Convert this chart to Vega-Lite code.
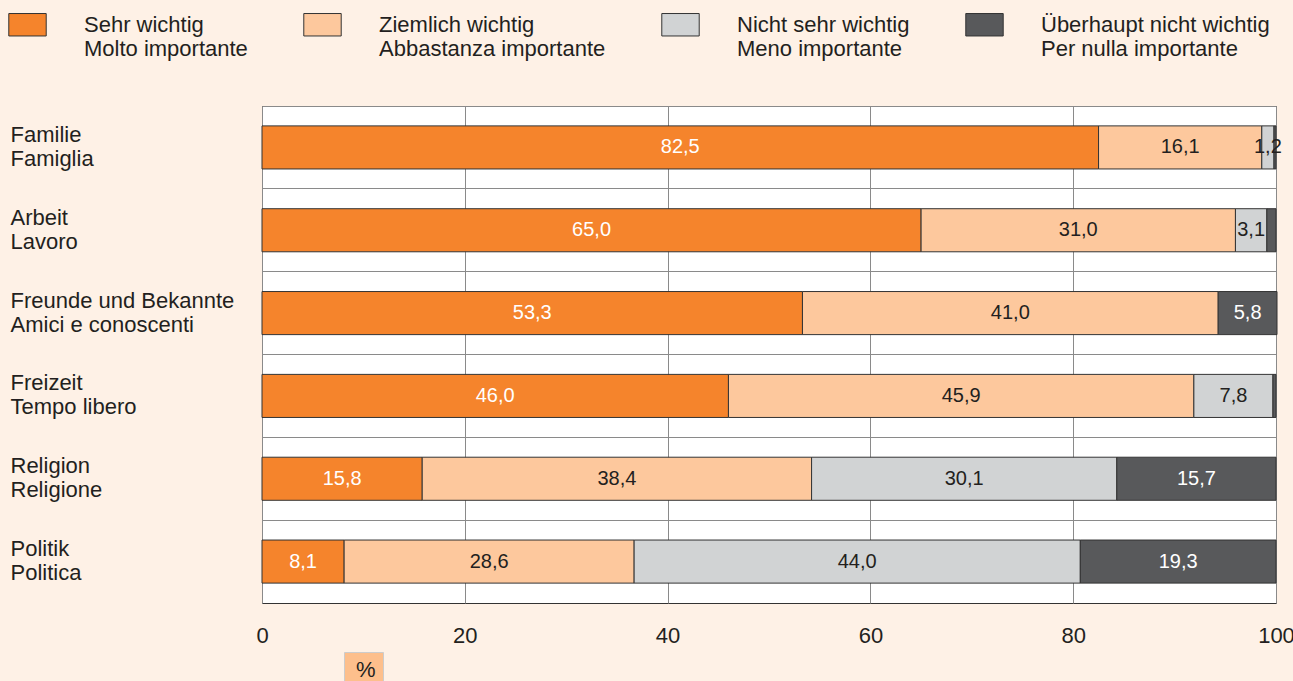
{
  "$schema": "https://vega.github.io/schema/vega-lite/v6.json",
  "width": 1014,
  "height": 497,
  "autosize": {"type": "none"},
  "padding": {"left": 262, "top": 106, "right": 17, "bottom": 78},
  "background": "#fef1e6",
  "config": {
    "font": "Liberation Sans",
    "view": {"fill": "white", "stroke": "#333333", "strokeWidth": 1},
    "locale": {"number": {"decimal": ",", "thousands": ".", "grouping": [3], "currency": ["", " €"]}}
  },
  "data": {
    "values": [
      {"cat": "Familie|Famiglia", "resp": "Sehr wichtig|Molto importante", "o": 1, "v": 82.5},
      {"cat": "Familie|Famiglia", "resp": "Ziemlich wichtig|Abbastanza importante", "o": 2, "v": 16.1},
      {"cat": "Familie|Famiglia", "resp": "Nicht sehr wichtig|Meno importante", "o": 3, "v": 1.2},
      {"cat": "Familie|Famiglia", "resp": "Überhaupt nicht wichtig|Per nulla importante", "o": 4, "v": 0.2},
      {"cat": "Arbeit|Lavoro", "resp": "Sehr wichtig|Molto importante", "o": 1, "v": 65.0},
      {"cat": "Arbeit|Lavoro", "resp": "Ziemlich wichtig|Abbastanza importante", "o": 2, "v": 31.0},
      {"cat": "Arbeit|Lavoro", "resp": "Nicht sehr wichtig|Meno importante", "o": 3, "v": 3.1},
      {"cat": "Arbeit|Lavoro", "resp": "Überhaupt nicht wichtig|Per nulla importante", "o": 4, "v": 0.9},
      {"cat": "Freunde und Bekannte|Amici e conoscenti", "resp": "Sehr wichtig|Molto importante", "o": 1, "v": 53.3},
      {"cat": "Freunde und Bekannte|Amici e conoscenti", "resp": "Ziemlich wichtig|Abbastanza importante", "o": 2, "v": 41.0},
      {"cat": "Freunde und Bekannte|Amici e conoscenti", "resp": "Überhaupt nicht wichtig|Per nulla importante", "o": 4, "v": 5.8},
      {"cat": "Freizeit|Tempo libero", "resp": "Sehr wichtig|Molto importante", "o": 1, "v": 46.0},
      {"cat": "Freizeit|Tempo libero", "resp": "Ziemlich wichtig|Abbastanza importante", "o": 2, "v": 45.9},
      {"cat": "Freizeit|Tempo libero", "resp": "Nicht sehr wichtig|Meno importante", "o": 3, "v": 7.8},
      {"cat": "Freizeit|Tempo libero", "resp": "Überhaupt nicht wichtig|Per nulla importante", "o": 4, "v": 0.3},
      {"cat": "Religion|Religione", "resp": "Sehr wichtig|Molto importante", "o": 1, "v": 15.8},
      {"cat": "Religion|Religione", "resp": "Ziemlich wichtig|Abbastanza importante", "o": 2, "v": 38.4},
      {"cat": "Religion|Religione", "resp": "Nicht sehr wichtig|Meno importante", "o": 3, "v": 30.1},
      {"cat": "Religion|Religione", "resp": "Überhaupt nicht wichtig|Per nulla importante", "o": 4, "v": 15.7},
      {"cat": "Politik|Politica", "resp": "Sehr wichtig|Molto importante", "o": 1, "v": 8.1},
      {"cat": "Politik|Politica", "resp": "Ziemlich wichtig|Abbastanza importante", "o": 2, "v": 28.6},
      {"cat": "Politik|Politica", "resp": "Nicht sehr wichtig|Meno importante", "o": 3, "v": 44.0},
      {"cat": "Politik|Politica", "resp": "Überhaupt nicht wichtig|Per nulla importante", "o": 4, "v": 19.3}
    ]
  },
  "encoding": {
    "y": {
      "field": "cat",
      "type": "nominal",
      "sort": ["Familie|Famiglia", "Arbeit|Lavoro", "Freunde und Bekannte|Amici e conoscenti", "Freizeit|Tempo libero", "Religion|Religione", "Politik|Politica"],
      "scale": {"paddingInner": 0, "paddingOuter": 0},
      "axis": {
        "title": null,
        "bandPosition": 0,
        "grid": true,
        "gridColor": "#8a8a8a",
        "gridWidth": 1,
        "ticks": false,
        "tickSize": 0,
        "domain": false,
        "labelAlign": "left",
        "labelBaseline": "middle",
        "labelPadding": 252,
        "labelOffset": -12.5,
        "labelFontSize": 22,
        "labelLineHeight": 24,
        "labelColor": "#231f20",
        "labelLimit": 300,
        "labelExpr": "split(datum.label, '|')"
      }
    }
  },
  "layer": [
    {
      "mark": {"type": "bar", "height": {"band": 0.52}, "stroke": "#333333", "strokeWidth": 1},
      "encoding": {
        "x": {
          "field": "v",
          "type": "quantitative",
          "stack": "zero",
          "scale": {"domain": [0, 100], "nice": false},
          "axis": {
            "values": [0, 20, 40, 60, 80, 100],
            "grid": true,
            "gridColor": "#8a8a8a",
            "ticks": false,
            "domain": false,
            "labelFlush": false,
            "labelPadding": 22,
            "labelFontSize": 22,
            "labelColor": "#231f20",
            "format": "d",
            "title": null
          }
        },
        "color": {
          "field": "resp",
          "type": "nominal",
          "sort": ["Sehr wichtig|Molto importante", "Ziemlich wichtig|Abbastanza importante", "Nicht sehr wichtig|Meno importante", "Überhaupt nicht wichtig|Per nulla importante"],
          "scale": {
            "domain": ["Sehr wichtig|Molto importante", "Ziemlich wichtig|Abbastanza importante", "Nicht sehr wichtig|Meno importante", "Überhaupt nicht wichtig|Per nulla importante"],
            "range": ["#f5842c", "#fdc89d", "#d1d3d4", "#58595b"]
          },
          "legend": {
            "title": null,
            "orient": "none",
            "legendX": -254,
            "legendY": -101,
            "direction": "horizontal",
            "columns": 4,
            "columnPadding": 53,
            "symbolType": "M-1,-0.6H1V0.6H-1Z",
            "symbolSize": 1400,
            "symbolStrokeColor": "#333333",
            "symbolStrokeWidth": 1,
            "symbolOpacity": 1,
            "labelOffset": 37,
            "labelFontSize": 22,
            "labelLineHeight": 25,
            "labelColor": "#231f20",
            "labelLimit": 400,
            "labelBaseline": "middle",
            "labelExpr": "split(datum.label, '|')"
          }
        },
        "order": {"field": "o", "type": "quantitative"}
      }
    },
    {
      "transform": [
        {"stack": "v", "groupby": ["cat"], "sort": [{"field": "o", "order": "ascending"}], "as": ["v0", "v1"]},
        {"calculate": "(datum.v0 + datum.v1) / 2", "as": "mid"},
        {"filter": "datum.v >= 1"}
      ],
      "mark": {"type": "text", "fontSize": 20, "baseline": "middle", "align": "center"},
      "encoding": {
        "x": {"field": "mid", "type": "quantitative"},
        "text": {"field": "v", "type": "quantitative", "format": ".1f"},
        "color": {
          "condition": {"test": "datum.o == 1 || datum.o == 4", "value": "white"},
          "value": "#231f20"
        },
        "opacity": {
          "datum": "%",
          "type": "nominal",
          "scale": {"range": [1]},
          "legend": {
            "title": null,
            "orient": "none",
            "legendX": 82,
            "legendY": 546,
            "fillColor": "#fdbf8c",
            "strokeColor": "#cccccc",
            "padding": 7,
            "symbolSize": 0,
            "symbolType": "circle",
            "symbolFillColor": "transparent",
            "symbolStrokeColor": "transparent",
            "symbolStrokeWidth": 0,
            "labelOffset": -17,
            "labelFontSize": 22,
            "labelColor": "#231f20"
          }
        }
      }
    }
  ]
}
